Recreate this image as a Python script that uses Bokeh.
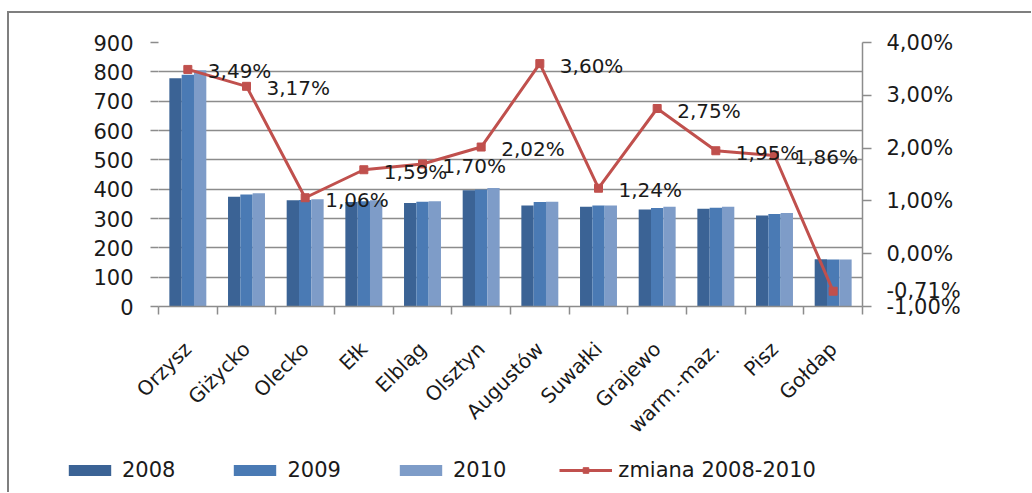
from bokeh.plotting import figure
from bokeh.layouts import column
from bokeh.models import (Range1d, LinearAxis, FixedTicker, Legend, LegendItem,
                          ColumnDataSource, LabelSet)
from bokeh.core.properties import value
from bokeh.transform import dodge
from bokeh.embed import file_html
from bokeh.resources import INLINE

# ---- data ----
categories = ["Orzysz", "Giżycko", "Olecko", "Ełk", "Elbląg", "Olsztyn",
              "Augustów", "Suwałki", "Grajewo", "warm.-maz.", "Pisz", "Gołdap"]
v2008 = [778, 374, 362, 356, 353, 396, 344, 340, 331, 333, 310, 161]
v2009 = [790, 382, 363, 359, 357, 399, 356, 344, 336, 337, 315, 160]
v2010 = [805, 386, 366, 362, 359, 404, 357, 344, 340, 340, 319, 160]
change = [3.49, 3.17, 1.06, 1.59, 1.70, 2.02, 3.60, 1.24, 2.75, 1.95, 1.86, -0.71]
change_labels = ["3,49%", "3,17%", "1,06%", "1,59%", "1,70%", "2,02%",
                 "3,60%", "1,24%", "2,75%", "1,95%", "1,86%", "-0,71%"]
left_ticks = [0, 100, 200, 300, 400, 500, 600, 700, 800, 900]
right_ticks = [-1, 0, 1, 2, 3, 4]
right_tick_labels = ["-1,00%", "0,00%", "1,00%", "2,00%", "3,00%", "4,00%"]
series_names = ["2008", "2009", "2010", "zmiana 2008-2010"]

FONT = "DejaVu Sans"
GRID = "#8c8c8c"
TXT = "#1a1a1a"
C08, C09, C10 = "#3b6395", "#4a7ab4", "#7e9cc8"
RED = "#c0504d"

pos = list(range(1, len(categories) + 1))
# the last label would reach past the plot frame (it overlaps the right axis in
# the original), so it is shown through the right axis instead of the label set
inframe_labels = change_labels[:-1] + [""]
src = ColumnDataSource(dict(x=pos, v2008=v2008, v2009=v2009, v2010=v2010,
                            change=change, lab=inframe_labels))

W, H1, H2 = 1022, 440, 39
p = figure(width=W, height=H1, output_backend="svg", toolbar_location=None,
           x_range=Range1d(0.5, len(categories) + 0.5), y_range=Range1d(0, 900),
           min_border_left=149, min_border_right=W - 149 - 704, min_border_top=29,
           min_border_bottom=H1 - 29 - 264)
p.outline_line_color = None
p.background_fill_color = "white"
p.border_fill_color = "white"

p.extra_y_ranges = {"pct": Range1d(-1, 4)}

w = 0.21
r08 = p.vbar(x=dodge("x", -w, range=p.x_range), top="v2008", width=w, source=src,
             fill_color=C08, line_color=None)
r09 = p.vbar(x=dodge("x", 0, range=p.x_range), top="v2009", width=w, source=src,
             fill_color=C09, line_color=None)
r10 = p.vbar(x=dodge("x", w, range=p.x_range), top="v2010", width=w, source=src,
             fill_color=C10, line_color=None)
rl = p.line(x="x", y="change", source=src, y_range_name="pct",
            line_color=RED, line_width=3)
rm = p.scatter(x="x", y="change", source=src, y_range_name="pct", marker="square",
               size=8, fill_color=RED, line_color=RED)
labels = LabelSet(x="x", y="change", text="lab", source=src, y_range_name="pct",
                  x_offset=20, y_offset=-2, text_font=value(FONT),
                  text_font_size=value("20px"), text_color=value(TXT),
                  text_baseline=value("middle"), text_align=value("left"))
p.add_layout(labels)

# left axis
yax = p.yaxis[0]
yax.ticker = FixedTicker(ticks=left_ticks)
yax.axis_line_color = None
yax.major_tick_line_color = GRID
yax.major_tick_line_width = 1.5
yax.major_tick_out = 8
yax.major_tick_in = 0
yax.minor_tick_line_color = None
yax.major_label_text_font = FONT
yax.major_label_text_font_size = "21px"
yax.major_label_text_color = TXT
yax.major_label_standoff = 17

# bottom axis
xax = p.xaxis[0]
xax.ticker = FixedTicker(ticks=pos, minor_ticks=[i + 0.5 for i in range(len(categories) + 1)])
xax.major_label_overrides = {i: c for i, c in zip(pos, categories)}
xax.major_label_orientation = 0.785398
xax.major_tick_line_color = None
xax.major_tick_out = 8
xax.major_tick_in = 0
xax.minor_tick_line_color = GRID
xax.minor_tick_out = 8
xax.minor_tick_in = 0
xax.minor_tick_line_width = 1.5
xax.axis_line_color = GRID
xax.axis_line_width = 1.5
xax.major_label_text_font = FONT
xax.major_label_text_font_size = "20px"
xax.major_label_text_color = TXT
xax.major_label_standoff = 31

# right axis (tick marks as minor ticks; labels at major ticks)
r_overrides = {t: s for t, s in zip(right_ticks, right_tick_labels)}
r_overrides[change[-1]] = change_labels[-1]
rax = LinearAxis(y_range_name="pct",
                 ticker=FixedTicker(ticks=right_ticks + [change[-1]], minor_ticks=right_ticks))
rax.major_label_overrides = r_overrides
rax.axis_line_color = GRID
rax.axis_line_width = 1.5
rax.major_tick_line_color = None
rax.major_tick_out = 9
rax.major_tick_in = 0
rax.minor_tick_line_color = GRID
rax.minor_tick_line_width = 1.5
rax.minor_tick_out = 9
rax.minor_tick_in = 0
rax.major_label_text_font = FONT
rax.major_label_text_font_size = "21px"
rax.major_label_text_color = TXT
rax.major_label_standoff = 15
p.add_layout(rax, "right")

p.xgrid.grid_line_color = None
p.ygrid.grid_line_color = GRID
p.ygrid.grid_line_width = 1.5
p.ygrid.ticker = FixedTicker(ticks=left_ticks)

# ---- legend strip: hidden copies of the series, only the legend shows ----
q = figure(width=W, height=H2, output_backend="svg", toolbar_location=None,
           x_axis_type=None, y_axis_type=None, min_border=0,
           x_range=Range1d(0.5, len(categories) + 0.5), y_range=Range1d(-3, -2))
if hasattr(q, "frame_align"):
    q.frame_align = False
q.outline_line_color = None
q.grid.visible = False
q.background_fill_color = "white"
q.border_fill_color = "white"
k08 = q.vbar(x="x", top="v2008", width=w, source=src, fill_color=C08, line_color=None)
k09 = q.vbar(x="x", top="v2009", width=w, source=src, fill_color=C09, line_color=None)
k10 = q.vbar(x="x", top="v2010", width=w, source=src, fill_color=C10, line_color=None)
kl = q.line(x="x", y="change", source=src, line_color=RED, line_width=3)
km = q.scatter(x="x", y="change", source=src, marker="square", size=8,
               fill_color=RED, line_color=RED)
for r in (k08, k09, k10, kl, km):
    r.visible = False
legend = Legend(items=[LegendItem(label=series_names[0], renderers=[k08]),
                       LegendItem(label=series_names[1], renderers=[k09]),
                       LegendItem(label=series_names[2], renderers=[k10]),
                       LegendItem(label=series_names[3], renderers=[kl, km])],
                orientation="horizontal", location=(54, 10),
                glyph_width=53, glyph_height=14,
                label_standoff=6, spacing=53,
                padding=0, margin=0, border_line_color=None,
                background_fill_alpha=0, inactive_fill_alpha=0,
                label_text_font=FONT,
                label_text_font_size="21px", label_text_color=TXT)
q.add_layout(legend)

lay = column(p, q, spacing=0)
lay.styles = {"border-top": "2px solid #7f7f7f", "border-left": "2px solid #7f7f7f",
              "margin-top": "11px", "margin-left": "7px"}

open("out.html", "w").write(file_html(lay, INLINE))
